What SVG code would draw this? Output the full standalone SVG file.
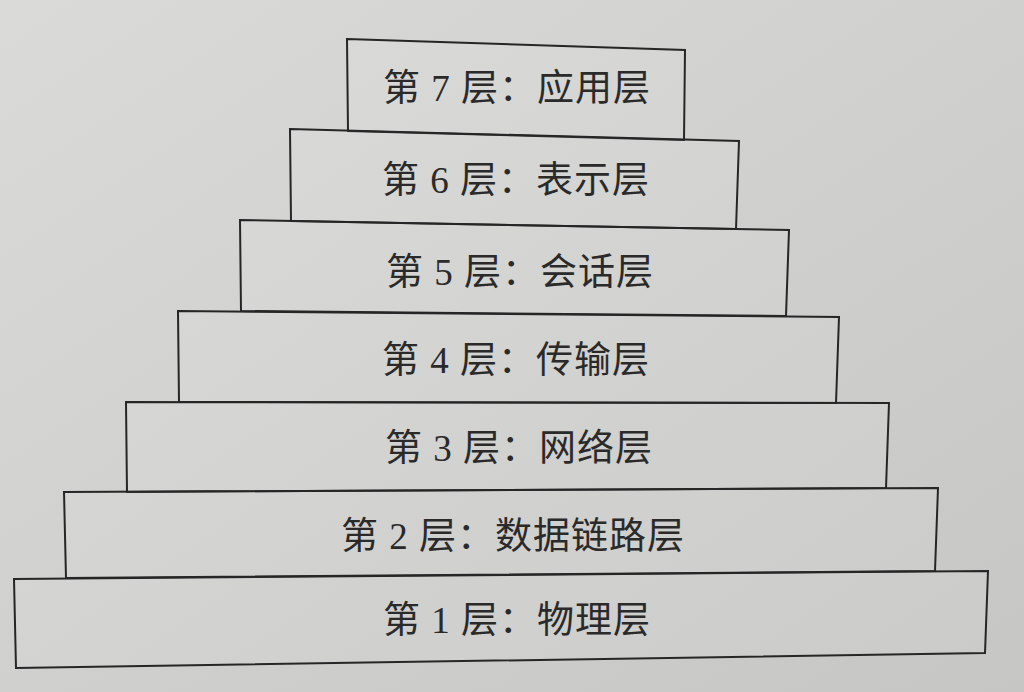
<svg xmlns="http://www.w3.org/2000/svg" width="1024" height="692" viewBox="0 0 1024 692">
<defs>
<linearGradient id="paper" x1="0" y1="0" x2="1" y2="1">
<stop offset="0" stop-color="#dadad8"/>
<stop offset="0.5" stop-color="#d0d0ce"/>
<stop offset="1" stop-color="#c6c6c4"/>
</linearGradient>
<style>
.layer{fill:#ffffff;fill-opacity:0.08;stroke:#262626;stroke-width:2;stroke-linejoin:miter}
.lbl{font-family:"Liberation Serif","Noto Sans CJK SC",serif;font-size:37px;letter-spacing:1px;fill:#2a2a2a;text-anchor:middle}
</style>
</defs>
<rect x="0" y="0" width="1024" height="692" fill="url(#paper)"/>
<g id="layer7">
<polygon class="layer" points="347,39 685,50 684,140 348,131"/>
<text class="lbl" x="517" y="101">第 7 层：应用层</text>
</g>
<g id="layer6">
<polygon class="layer" points="290,129 739,141 736,229 291,221"/>
<text class="lbl" x="516" y="193">第 6 层：表示层</text>
</g>
<g id="layer5">
<polygon class="layer" points="240,220 789,230 786,316 241,311"/>
<text class="lbl" x="520" y="285">第 5 层：会话层</text>
</g>
<g id="layer4">
<polygon class="layer" points="178,311 839,317 836,403 179,402"/>
<text class="lbl" x="516" y="373">第 4 层：传输层</text>
</g>
<g id="layer3">
<polygon class="layer" points="126,402 889,403 886,488 127,492"/>
<text class="lbl" x="519" y="461">第 3 层：网络层</text>
</g>
<g id="layer2">
<polygon class="layer" points="64,492 938,488 935,571 66,578"/>
<text class="lbl" x="513" y="549">第 2 层：数据链路层</text>
</g>
<g id="layer1">
<polygon class="layer" points="14,579 988,571 985,653 16,668"/>
<text class="lbl" x="517" y="633">第 1 层：物理层</text>
</g>
<g id="connectors"/>
</svg>
